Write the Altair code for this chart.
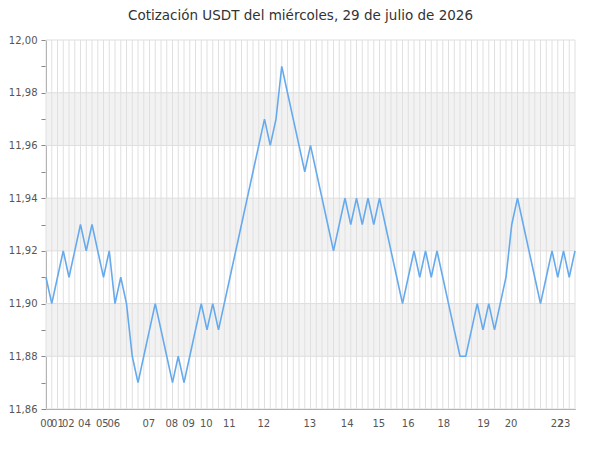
import altair as alt
import pandas as pd

# Price readings (USDT), one per sample, in order
values = [
    11.91, 11.90, 11.91, 11.92, 11.91, 11.92, 11.93, 11.92, 11.93, 11.92,
    11.91, 11.92, 11.90, 11.91, 11.90, 11.88, 11.87, 11.88, 11.89, 11.90,
    11.89, 11.88, 11.87, 11.88, 11.87, 11.88, 11.89, 11.90, 11.89, 11.90,
    11.89, 11.90, 11.91, 11.92, 11.93, 11.94, 11.95, 11.96, 11.97, 11.96,
    11.97, 11.99, 11.98, 11.97, 11.96, 11.95, 11.96, 11.95, 11.94, 11.93,
    11.92, 11.93, 11.94, 11.93, 11.94, 11.93, 11.94, 11.93, 11.94, 11.93,
    11.92, 11.91, 11.90, 11.91, 11.92, 11.91, 11.92, 11.91, 11.92, 11.91,
    11.90, 11.89, 11.88, 11.88, 11.89, 11.90, 11.89, 11.90, 11.89, 11.90,
    11.91, 11.93, 11.94, 11.93, 11.92, 11.91, 11.90, 11.91, 11.92, 11.91,
    11.92, 11.91, 11.92,
]

# Hour labels and where along the sample axis each one sits
hour_labels = ["00", "01", "02", "04", "05", "06", "07", "08", "09", "10", "11",
               "12", "13", "14", "15", "16", "18", "19", "20", "22", "23"]
hour_pos = [0, 1.9, 3.8, 6.6, 9.7, 11.7, 17.8, 21.8, 24.7, 27.8, 31.8,
            37.8, 45.8, 52.3, 57.8, 62.9, 69.1, 76.0, 80.8, 88.8, 90.0]

y_ticks = [11.86, 11.87, 11.88, 11.89, 11.90, 11.91, 11.92, 11.93,
           11.94, 11.95, 11.96, 11.97, 11.98, 11.99, 12.00]
y_grid = [11.86, 11.88, 11.90, 11.92, 11.94, 11.96, 11.98, 12.00]
band_lo = [11.88, 11.92, 11.96]
band_hi = [11.90, 11.94, 11.98]

W, H = 529, 369
FONT = "DejaVu Sans"

df = pd.DataFrame({"i": list(range(len(values))), "v": values})
bands = pd.DataFrame({"lo": band_lo, "hi": band_hi})
grid = pd.DataFrame({"g": y_grid})

label_expr = "".join(
    f"abs(datum.value - {p}) < 0.01 ? '{l}' : " for p, l in zip(hour_pos, hour_labels)
) + "''"

xscale = alt.Scale(domain=[0, len(values) - 1], nice=False, zero=False)
yscale = alt.Scale(domain=[11.86, 12.00], nice=False, zero=False)


def x_axis():
    return alt.Axis(values=hour_pos, labelExpr=label_expr, grid=False, ticks=False,
                    labelOverlap=False, labelFlush=False, labelPadding=9,
                    labelFontSize=10, labelColor="#555555", labelFont=FONT,
                    domainColor="#888888", title=None)


def y_axis():
    return alt.Axis(values=y_ticks, grid=False, tickSize=5, tickColor="#888888",
                    labelExpr="round(datum.value*100) % 2 == 0 ? replace(format(datum.value, '.2f'), '.', ',') : ''",
                    labelOverlap=False, labelFlush=False, labelFontSize=10,
                    labelColor="#555555", labelFont=FONT, labelPadding=4,
                    domainColor="#888888", title=None)


band_layer = alt.Chart(bands).mark_rect(color="#f2f2f2").encode(
    y=alt.Y("lo:Q", scale=yscale, axis=y_axis()),
    y2="hi:Q",
    x=alt.value(0),
    x2=alt.value(W),
)

hgrid = alt.Chart(grid).mark_rule(color="#dddddd", strokeWidth=1).encode(
    y=alt.Y("g:Q", scale=yscale, axis=y_axis()),
)

vgrid = alt.Chart(df).mark_rule(color="#e0e0e0", strokeWidth=1).encode(
    x=alt.X("i:Q", scale=xscale, axis=x_axis()),
)

line = alt.Chart(df).mark_line(color="#66aaee", strokeWidth=1.6).encode(
    x=alt.X("i:Q", scale=xscale, axis=x_axis()),
    y=alt.Y("v:Q", scale=yscale, axis=y_axis()),
)

chart = alt.layer(band_layer, hgrid, vgrid, line).properties(
    width=W,
    height=H,
    autosize=alt.AutoSizeParams(type="none"),
    padding={"left": 38, "top": 32, "right": 12, "bottom": 30},
    title=alt.TitleParams(
        "Cotización USDT del miércoles, 29 de julio de 2026",
        font=FONT, fontSize=13.5, fontWeight="normal", color="#333333",
        anchor="middle", dx=-10, offset=13,
    ),
).configure_view(stroke=None)

chart.save("out.html", embed_options={"renderer": "svg", "actions": False})
